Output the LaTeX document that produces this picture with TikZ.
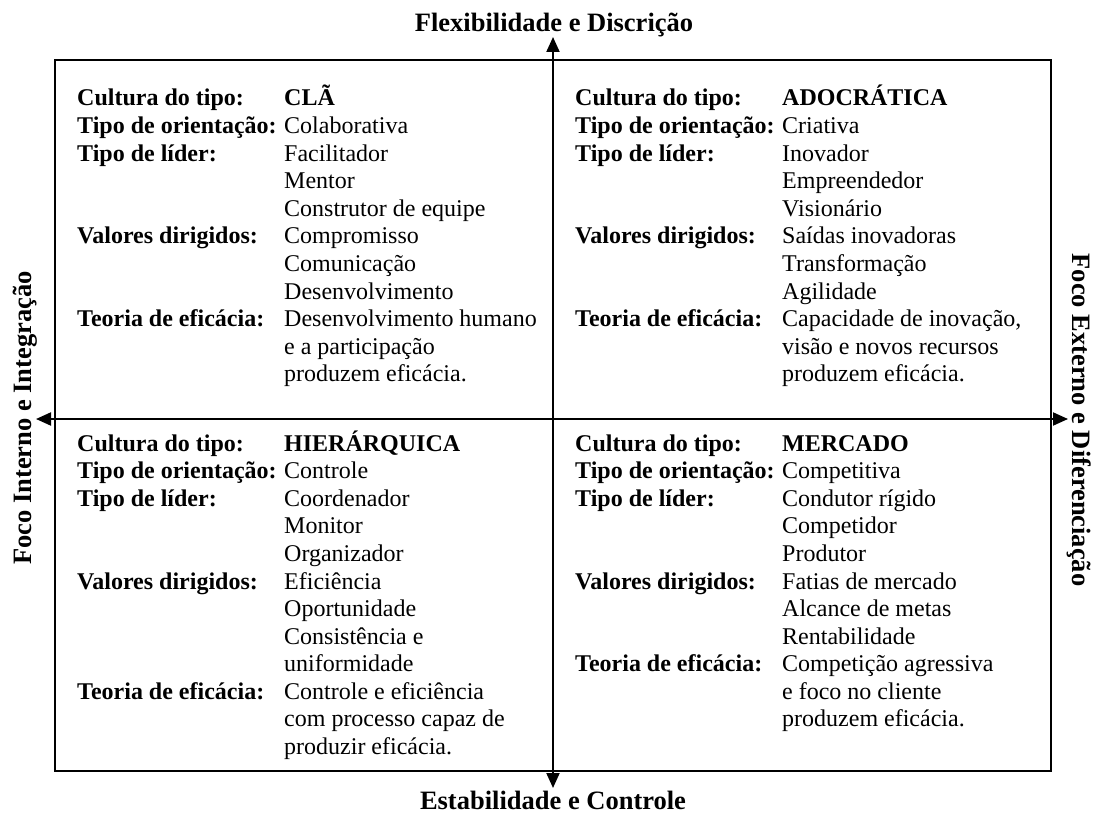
\documentclass[tikz,border=0pt]{standalone}
\usepackage{fontspec}
\setmainfont{Liberation Serif}
\usetikzlibrary{arrows.meta}
\newcommand{\qtab}[1]{\begin{tabular}[t]{@{}p{207pt}@{}l@{}}#1\end{tabular}}
\tikzset{
  quad/.style={anchor=base west, inner sep=0pt, font=\fontsize{24}{27.6}\selectfont},
  axislabel/.style={inner sep=0pt, anchor=base, font=\fontsize{26.5}{30}\selectfont\bfseries},
  axis/.style={line width=2pt, {Triangle[length=15pt,width=13pt]}-{Triangle[length=15pt,width=13pt]}},
  frame/.style={line width=2pt}
}
\begin{document}
\begin{tikzpicture}[x=1pt,y=-1pt]
\useasboundingbox (0,0) rectangle (1096,813);
\draw[frame] (55,60) rectangle (1051,771);
\coordinate (top) at (553,37);
\coordinate (bot) at (553,788);
\coordinate (lft) at (36,419);
\coordinate (rgt) at (1068,419);
\draw[axis] (bot) -- (top);
\draw[axis] (lft) -- (rgt);
\node[axislabel] (tTop) at (554,32) {Flexibilidade e Discrição};
\node[axislabel] (tBot) at (553,809) {Estabilidade e Controle};
\node[axislabel, rotate=90] (tLft) at (31,418) {Foco Interno e Integração};
\node[axislabel, rotate=-90] (tRgt) at (1072,420) {Foco Externo e Diferenciação};
\node[quad] (qClan) at (77,106) {\qtab{%
\textbf{Cultura do tipo:} & \textbf{CLÃ}\\
\textbf{Tipo de orientação:} & Colaborativa\\
\textbf{Tipo de líder:} & Facilitador\\
 & Mentor\\
 & Construtor de equipe\\
\textbf{Valores dirigidos:} & Compromisso\\
 & Comunicação\\
 & Desenvolvimento\\
\textbf{Teoria de eficácia:} & Desenvolvimento humano\\
 & e a participação\\
 & produzem eficácia.}};
\node[quad] (qAdho) at (575,106) {\qtab{%
\textbf{Cultura do tipo:} & \textbf{ADOCRÁTICA}\\
\textbf{Tipo de orientação:} & Criativa\\
\textbf{Tipo de líder:} & Inovador\\
 & Empreendedor\\
 & Visionário\\
\textbf{Valores dirigidos:} & Saídas inovadoras\\
 & Transformação\\
 & Agilidade\\
\textbf{Teoria de eficácia:} & Capacidade de inovação,\\
 & visão e novos recursos\\
 & produzem eficácia.}};
\node[quad] (qHier) at (77,451) {\qtab{%
\textbf{Cultura do tipo:} & \textbf{HIERÁRQUICA}\\
\textbf{Tipo de orientação:} & Controle\\
\textbf{Tipo de líder:} & Coordenador\\
 & Monitor\\
 & Organizador\\
\textbf{Valores dirigidos:} & Eficiência\\
 & Oportunidade\\
 & Consistência e\\
 & uniformidade\\
\textbf{Teoria de eficácia:} & Controle e eficiência\\
 & com processo capaz de\\
 & produzir eficácia.}};
\node[quad] (qMerc) at (575,451) {\qtab{%
\textbf{Cultura do tipo:} & \textbf{MERCADO}\\
\textbf{Tipo de orientação:} & Competitiva\\
\textbf{Tipo de líder:} & Condutor rígido\\
 & Competidor\\
 & Produtor\\
\textbf{Valores dirigidos:} & Fatias de mercado\\
 & Alcance de metas\\
 & Rentabilidade\\
\textbf{Teoria de eficácia:} & Competição agressiva\\
 & e foco no cliente\\
 & produzem eficácia.}};
\end{tikzpicture}
\end{document}
